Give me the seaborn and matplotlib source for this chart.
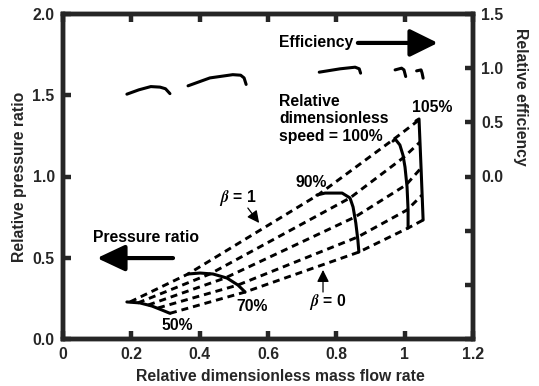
import matplotlib
matplotlib.use("Agg")
import matplotlib.pyplot as plt
import seaborn as sns

# ---- compressor map: speed lines (mass flow, pressure ratio) ----
speed_labels = ["50%", "70%", "90%", "100%", "105%"]

flow_50 = [0.187, 0.225, 0.260, 0.290, 0.313]
pr_50 = [0.228, 0.222, 0.203, 0.178, 0.158]

flow_70 = [0.366, 0.401, 0.439, 0.480, 0.512, 0.533]
pr_70 = [0.400, 0.406, 0.400, 0.375, 0.332, 0.289]

flow_90 = [0.743, 0.767, 0.817, 0.840, 0.849, 0.857, 0.863, 0.866]
pr_90 = [0.886, 0.898, 0.898, 0.868, 0.812, 0.714, 0.609, 0.535]

flow_100 = [0.966, 0.972, 0.986, 0.995, 1.001, 1.007, 1.010, 1.010]
pr_100 = [1.218, 1.231, 1.194, 1.132, 1.058, 0.935, 0.794, 0.683]

flow_105 = [1.033, 1.042, 1.048, 1.054]
pr_105 = [1.342, 1.354, 1.052, 0.732]

# ---- beta lines (one point per speed line, 50% .. 105%) ----
beta_values = [1.0, 0.75, 0.5, 0.25, 0.0]
beta_flow = [
    [0.196, 0.366, 0.746, 0.969, 1.042],
    [0.219, 0.430, 0.840, 0.995, 1.045],
    [0.249, 0.474, 0.855, 1.004, 1.048],
    [0.278, 0.512, 0.863, 1.007, 1.051],
    [0.313, 0.533, 0.866, 1.010, 1.054],
]
beta_pr = [
    [0.228, 0.400, 0.886, 1.231, 1.348],
    [0.222, 0.400, 0.868, 1.114, 1.212],
    [0.209, 0.375, 0.751, 0.948, 1.052],
    [0.191, 0.332, 0.628, 0.794, 0.886],
    [0.158, 0.289, 0.535, 0.683, 0.732],
]

# ---- efficiency islands (mass flow, relative efficiency) ----
eff_flow_50 = [0.187, 0.222, 0.257, 0.284, 0.300, 0.313]
eff_50 = [0.760, 0.800, 0.830, 0.825, 0.810, 0.765]
eff_flow_70 = [0.366, 0.430, 0.497, 0.520, 0.530, 0.536]
eff_70 = [0.837, 0.910, 0.940, 0.935, 0.910, 0.850]
eff_flow_90 = [0.750, 0.811, 0.855, 0.867, 0.871]
eff_90 = [0.963, 0.994, 1.009, 0.994, 0.954]
eff_flow_100 = [0.972, 0.991, 0.998, 1.003]
eff_100 = [0.984, 1.000, 0.984, 0.923]
eff_flow_105 = [1.035, 1.048, 1.051, 1.054]
eff_105 = [0.975, 0.984, 0.954, 0.908]

x_ticks = [0, 0.2, 0.4, 0.6, 0.8, 1.0, 1.2]
x_tick_labels = ["0", "0.2", "0.4", "0.6", "0.8", "1", "1.2"]
pr_ticks = [0.0, 0.5, 1.0, 1.5, 2.0]
pr_tick_labels = ["0.0", "0.5", "1.0", "1.5", "2.0"]
eff_ticks = [-1.5, -1.0, -0.5, 0.0, 0.5, 1.0, 1.5]
eff_tick_labels = ["", "", "", "0.0", "0.5", "1.0", "1.5"]

sns.set_style("ticks")
plt.rcParams["font.family"] = ["Liberation Sans", "DejaVu Sans"]
plt.rcParams["font.weight"] = "bold"
plt.rcParams["mathtext.fontset"] = "stix"

fig = plt.figure(figsize=(5.39, 3.86), dpi=100)
ax = fig.add_axes([63 / 539, 47 / 386, 410 / 539, 325 / 386])
ax2 = ax.twinx()

SPINE_W = 3.2
FS = 11.3
speed_kw = dict(color="black", lw=2.2, sort=False, estimator=None)
dash_kw = dict(color="black", lw=2.1, sort=False, estimator=None,
               linestyle=(0, (2.4, 1.7)))

# solid speed lines
for fx, py in [(flow_50, pr_50), (flow_70, pr_70), (flow_90, pr_90),
               (flow_100, pr_100), (flow_105, pr_105)]:
    sns.lineplot(x=fx, y=py, ax=ax, **speed_kw)

# dashed beta lines
for fx, py in zip(beta_flow, beta_pr):
    sns.lineplot(x=fx, y=py, ax=ax, **dash_kw)

# efficiency curves on the secondary axis
for fx, ey in [(eff_flow_50, eff_50), (eff_flow_70, eff_70),
               (eff_flow_90, eff_90), (eff_flow_100, eff_100),
               (eff_flow_105, eff_105)]:
    sns.lineplot(x=fx, y=ey, ax=ax2, **speed_kw)

ax.set_xlim(0, 1.2)
ax.set_ylim(0, 2.0)
ax2.set_ylim(-1.5, 1.5)

ax.set_xticks(x_ticks)
ax.set_xticklabels(x_tick_labels)
ax.set_yticks(pr_ticks)
ax.set_yticklabels(pr_tick_labels)
ax2.set_yticks(eff_ticks)
ax2.set_yticklabels(eff_tick_labels)

for a in (ax, ax2):
    for s in a.spines.values():
        s.set_linewidth(SPINE_W)
        s.set_visible(True)
ax.tick_params(axis="both", direction="in", length=6, width=SPINE_W,
               labelsize=FS, pad=6, top=True, right=False)
ax.tick_params(axis="x", pad=6)
ax2.tick_params(axis="y", direction="in", length=6, width=SPINE_W,
                labelsize=FS, pad=6)
for lab in ax.get_xticklabels() + ax.get_yticklabels() + ax2.get_yticklabels():
    lab.set_fontweight("bold")

ax.set_xlabel("Relative dimensionless mass flow rate", fontsize=FS,
              fontweight="bold", va="center")
ax.xaxis.set_label_coords(0.529, -0.114)
ax.set_ylabel("Relative pressure ratio", fontsize=FS, fontweight="bold",
              va="center")
ax.yaxis.set_label_coords(-0.107, 0.5)
ax2.set_ylabel("Relative efficiency", fontsize=FS, fontweight="bold",
               rotation=270, va="center")
ax2.yaxis.set_label_coords(1.115, 0.745)

# annotations
txt = dict(fontsize=FS, fontweight="bold", color="black")
ax.text(0.632, 1.822, "Efficiency", ha="left", va="center", **txt)
ax.annotate("", xy=(1.097, 1.822), xytext=(0.863, 1.822),
            arrowprops=dict(arrowstyle="-|>,head_length=0.85,head_width=0.42",
                            lw=3.0, color="black", mutation_scale=20,
                            shrinkA=0, shrinkB=0))
ax.text(0.243, 0.622, "Pressure ratio", ha="center", va="center", **txt)
ax.annotate("", xy=(0.0995, 0.498), xytext=(0.322, 0.498),
            arrowprops=dict(arrowstyle="-|>,head_length=0.85,head_width=0.4",
                            lw=3.0, color="black", mutation_scale=20,
                            shrinkA=0, shrinkB=0))
ax.text(0.632, 1.354, "Relative\ndimensionless\nspeed = 100%", ha="left",
        va="center", linespacing=1.2, **txt)
for lbl, (tx, ty) in zip(speed_labels,
                         [(0.334, 0.080), (0.553, 0.197), (0.726, 0.966),
                          (None, None), (1.080, 1.422)]):
    if tx is not None:
        ax.text(tx, ty, lbl, ha="center", va="center", **txt)

ax.text(0.512, 0.868, r"$\beta$ = 1", ha="center", va="center", **txt)
ax.annotate("", xy=(0.574, 0.714), xytext=(0.541, 0.806),
            arrowprops=dict(arrowstyle="-|>,head_length=0.6,head_width=0.3",
                            lw=0.9, color="black", mutation_scale=12,
                            shrinkA=0, shrinkB=0))
ax.text(0.773, 0.228, r"$\beta$ = 0", ha="center", va="center", **txt)
ax.annotate("", xy=(0.761, 0.425), xytext=(0.761, 0.289),
            arrowprops=dict(arrowstyle="-|>,head_length=0.6,head_width=0.3",
                            lw=0.9, color="black", mutation_scale=12,
                            shrinkA=0, shrinkB=0))

fig.savefig("out.png", dpi=100)
